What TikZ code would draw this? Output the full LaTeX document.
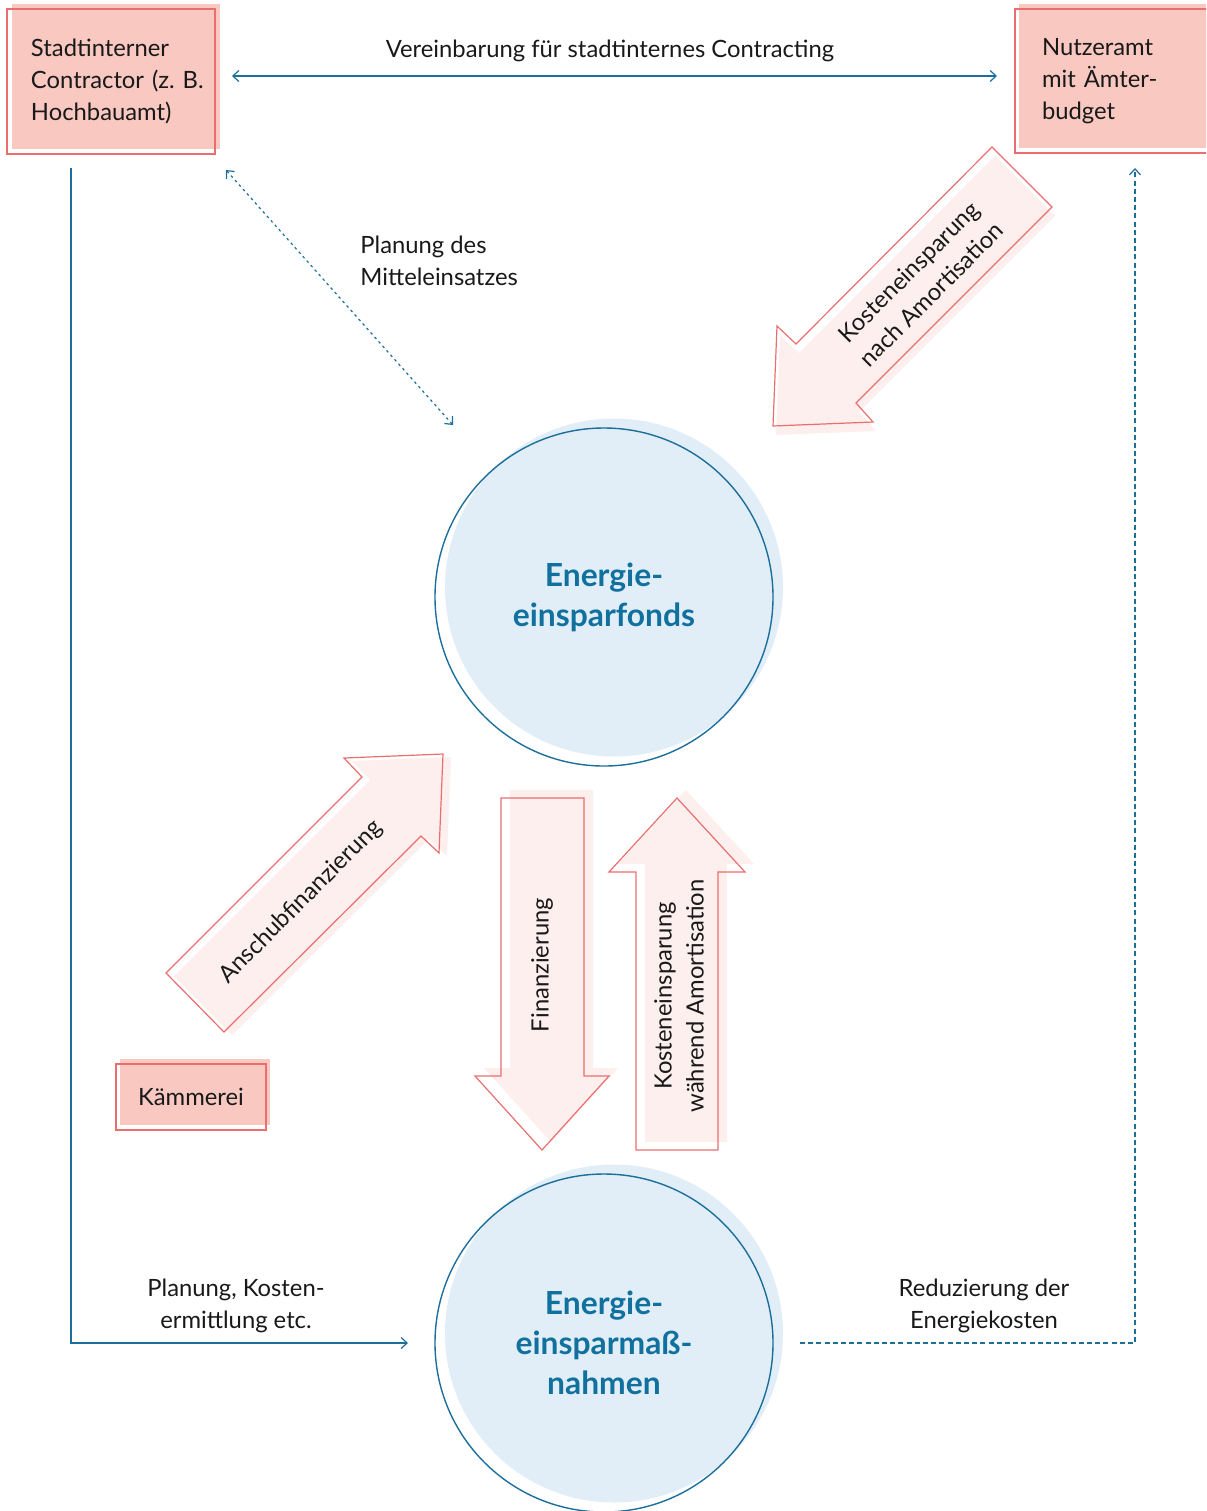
\documentclass[tikz,border=0pt]{standalone}
\usepackage{fontspec}
\setmainfont{Lato}
\usetikzlibrary{arrows.meta,shadows}

\definecolor{lineblue}{RGB}{28,110,155}
\definecolor{titleblue}{RGB}{16,112,158}
\definecolor{boxred}{RGB}{234,110,110}
\definecolor{boxfill}{RGB}{248,200,193}
\definecolor{arrowfill}{RGB}{252,239,238}
\definecolor{circfill}{RGB}{225,238,247}
\definecolor{ink}{RGB}{25,25,25}

\begin{document}
\begin{tikzpicture}[x=0.5pt,y=-0.5pt,
  >={Straight Barb[length=3pt,width=5.5pt]},
  txt/.style={font=\fontsize{11.9}{16}\selectfont, text=ink, inner sep=0pt},
  actor/.style={rectangle, draw=boxred, line width=0.6pt, inner sep=0pt,
    font=\fontsize{11.9}{16}\selectfont, text=ink,
    general shadow={fill=boxfill, shadow xshift=#1, shadow yshift=2.5pt}},
  pool/.style={circle, draw=lineblue, line width=0.7pt, minimum size=169pt, inner sep=0pt,
    align=center, font=\fontsize{15.9}{20}\selectfont\bfseries, text=titleblue,
    general shadow={fill=circfill, shadow xshift=5pt, shadow yshift=4.75pt}},
  bigarrow/.style 2 args={draw=boxred, line width=0.6pt, line join=miter,
    general shadow={fill=arrowfill, shadow xshift=#1, shadow yshift=#2}},
  conn/.style={draw=lineblue, line width=0.6pt},
  dotconn/.style={conn, dash pattern=on 1.3pt off 1.7pt},
  dashconn/.style={conn, dash pattern=on 2.5pt off 1.6pt},
]
\useasboundingbox (0,0) rectangle (1206,1511);
\clip (0,0) rectangle (1206,1511);

% circles
\node[pool] (fonds) at (604,597) {Energie-\\einsparfonds};
\node[pool] (massn) at (604,1343) {Energie-\\einsparmaß-\\nahmen};

% boxes
\node[actor=2.5pt, minimum width=104pt, minimum height=72.5pt, text width=80pt, align=left]
  (contractor) at (111,81.5) {\mbox{Stadtinterner}\\\mbox{Contractor (z.~B.}\\\mbox{Hochbauamt)}};
\node[actor=2pt, minimum width=105pt, minimum height=72pt, text width=78pt, align=left]
  (nutzer) at (1120,81) {\mbox{Nutzeramt}\\\mbox{mit Ämter-}\\\mbox{budget}};
\node[actor=1.75pt, minimum width=75pt, minimum height=33pt]
  (kaemmerei) at (191,1097) {Kämmerei};

% big arrows
\draw[bigarrow={4.5pt}{4pt}] (501,798) -- (584,798) -- (584,1076) -- (609,1076)
  -- (542,1150) -- (475,1076) -- (501,1076) -- cycle;
\draw[bigarrow={4.5pt}{4pt}] (636,1150) -- (718,1150) -- (718,872) -- (745,872)
  -- (677,798) -- (609,872) -- (636,872) -- cycle;
\draw[bigarrow={4pt}{-1.5pt}] (443,754) -- (344,758) -- (362,777) -- (166,973)
  -- (224,1032) -- (421,836) -- (439,853) -- cycle;
\draw[bigarrow={1.5pt}{-4.5pt}] (773,426) -- (777,326) -- (796,344) -- (992,147)
  -- (1052,207) -- (856,403) -- (873,422) -- cycle;

\node[txt, rotate=90] (tfin) at (542,965) {Finanzierung};
\node[txt, rotate=90, align=center] (twaehrend) at (679,996) {Kosteneinsparung\\während Amortisation};
\node[txt, rotate=45] (tanschub) at (301,902) {Anschubfinanzierung};
\node[txt, rotate=45, align=center] (tnach) at (920,283) {Kosteneinsparung\\nach Amortisation};

% connectors
\coordinate (agL) at (232,76);
\coordinate (agR) at (997,76);
\draw[conn,<->] (agL) -- (agR);
\node[txt] (tverein) at (610,51) {Vereinbarung für stadtinternes Contracting};

\coordinate (plA) at (226,170);
\coordinate (plB) at (453,425);
\draw[dotconn,<->] (plA) -- (plB);
\node[txt, anchor=west, align=left] (tplan) at (360,261) {Planung des\\Mitteleinsatzes};

\coordinate (lcStart) at (71,168);
\coordinate (lcEnd) at (408,1343);
\draw[conn,->] (lcStart) |- (lcEnd);
\node[txt, align=center] (tkosten) at (236,1306) {Planung, Kosten-\\ermittlung etc.};

\coordinate (rdStart) at (800,1343);
\coordinate (rdEnd) at (1135,168);
\draw[dashconn,->] (rdStart) -| (rdEnd);
\node[txt, align=center] (tredu) at (984,1306) {Reduzierung der\\Energiekosten};
\end{tikzpicture}
\end{document}
